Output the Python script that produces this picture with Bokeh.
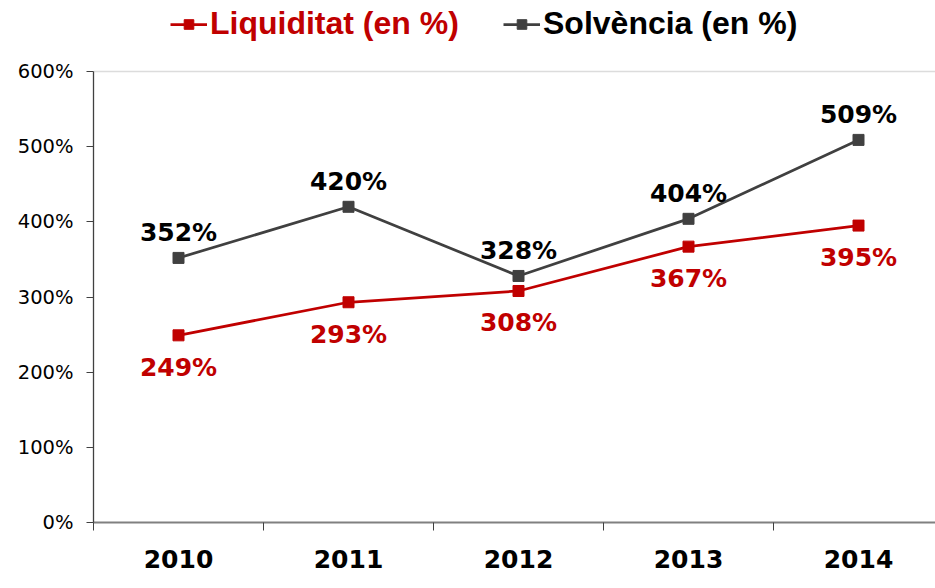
from bokeh.plotting import figure
from bokeh.models import Range1d, FixedTicker, Legend, LegendItem, ColumnDataSource, PrintfTickFormatter
from bokeh.core.properties import value
from bokeh.embed import file_html
from bokeh.resources import INLINE

years = ["2010", "2011", "2012", "2013", "2014"]
liquiditat = [249, 293, 308, 367, 395]
solvencia = [352, 420, 328, 404, 509]
y_ticks = [0, 100, 200, 300, 400, 500, 600]

RED = "#C00000"
GRAY = "#404040"

W, H = 935, 588
LEFT, PLOT_TOP, BOTTOM = 93, 71, 66
cat_px = 170
frame_w = W - LEFT
frame_h = H - BOTTOM            # frame reaches the top edge (legend lives inside)
plot_h = H - PLOT_TOP - BOTTOM  # pixel height of the 0..600 band
y_end = y_ticks[-1] * frame_h / plot_h

xs = [i + 0.5 for i in range(len(years))]

p = figure(width=W, height=H, output_backend="svg", toolbar_location=None,
           x_range=Range1d(0, frame_w / cat_px), y_range=Range1d(0, y_end),
           min_border_left=LEFT, min_border_top=0, min_border_bottom=BOTTOM,
           min_border_right=0)
p.outline_line_color = None
p.background_fill_color = "white"
p.border_fill_color = "white"

# axes
p.yaxis.ticker = FixedTicker(ticks=y_ticks)
p.yaxis.bounds = (y_ticks[0], y_ticks[-1])
p.yaxis.formatter = PrintfTickFormatter(format="%d%%")
p.yaxis.major_label_text_font = "DejaVu Sans"
p.yaxis.major_label_text_font_size = "19.5px"
p.yaxis.major_label_text_color = "#000000"
p.yaxis.major_tick_out = 7
p.yaxis.major_tick_in = 0
p.yaxis.minor_tick_out = 0
p.yaxis.minor_tick_in = 0
p.yaxis.major_label_standoff = 13
p.yaxis.axis_line_color = GRAY
p.yaxis.major_tick_line_color = GRAY
p.yaxis.axis_line_width = 1.3

p.xaxis.ticker = FixedTicker(ticks=xs, minor_ticks=list(range(len(years) + 1)))
p.xaxis.major_label_overrides = {x: y for x, y in zip(xs, years)}
p.xaxis.major_label_text_font = "DejaVu Sans"
p.xaxis.major_label_text_font_style = "bold"
p.xaxis.major_label_text_font_size = "25px"
p.xaxis.major_label_text_color = "#000000"
p.xaxis.major_tick_out = 0
p.xaxis.major_tick_in = 0
p.xaxis.minor_tick_out = 8
p.xaxis.minor_tick_in = 0
p.xaxis.minor_tick_line_color = GRAY
p.xaxis.major_label_standoff = 19
p.xaxis.axis_line_color = "#808080"
p.xaxis.axis_line_width = 2

p.xgrid.grid_line_color = None
p.ygrid.ticker = FixedTicker(ticks=[y_ticks[-1]])
p.ygrid.grid_line_color = "#dcdcdc"
p.ygrid.grid_line_width = 1.5

src = ColumnDataSource(dict(x=xs, liq=liquiditat, sol=solvencia,
                            liq_t=[f"{v}%" for v in liquiditat],
                            sol_t=[f"{v}%" for v in solvencia]))

l_sol = p.line("x", "sol", source=src, line_color=GRAY, line_width=2.75)
m_sol = p.scatter("x", "sol", source=src, marker="square", size=11, fill_color=GRAY, line_color=GRAY)
l_liq = p.line("x", "liq", source=src, line_color=RED, line_width=2.75)
m_liq = p.scatter("x", "liq", source=src, marker="square", size=11, fill_color=RED, line_color=RED)

p.text("x", "sol", text="sol_t", source=src, y_offset=-25, text_align="center",
       text_baseline="middle", text_font=value("DejaVu Sans"), text_font_style="bold",
       text_font_size="25px", text_color="#000000")
p.text("x", "liq", text="liq_t", source=src, y_offset=32, text_align="center",
       text_baseline="middle", text_font=value("DejaVu Sans"), text_font_style="bold",
       text_font_size="25px", text_color=RED)

def make_legend(label, rends, color, loc):
    return Legend(items=[LegendItem(label=label, renderers=rends)], location=loc,
                  orientation="horizontal", border_line_color=None,
                  background_fill_alpha=0, padding=0, margin=0, spacing=0,
                  glyph_width=37, glyph_height=24, label_standoff=3,
                  label_text_font="Liberation Sans", label_text_font_style="bold",
                  label_text_font_size="32px", label_text_color=color)

leg_bottom = frame_h - 42
p.add_layout(make_legend("Liquiditat (en %)", [l_liq, m_liq], RED, (170 - LEFT, leg_bottom)))
p.add_layout(make_legend("Solvència (en %)", [l_sol, m_sol], "#000000", (503 - LEFT, leg_bottom)))

open("out.html", "w").write(file_html(p, INLINE))
